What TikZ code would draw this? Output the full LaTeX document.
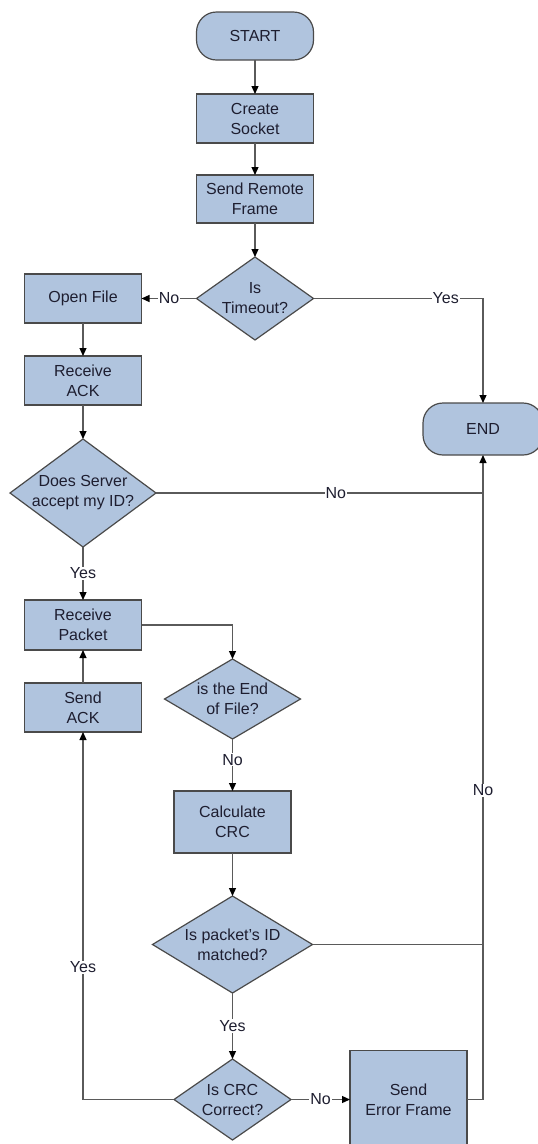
\documentclass[tikz,border=0pt]{standalone}
\usepackage{fontspec}
\setmainfont{Liberation Sans}
\usetikzlibrary{arrows.meta, positioning, shapes.geometric}
\definecolor{boxfill}{HTML}{B0C4DE}
\definecolor{boxline}{HTML}{4A4A4A}
\definecolor{wire}{HTML}{5A5A5A}
\definecolor{txt}{HTML}{1E1E30}

\begin{document}
\begin{tikzpicture}[
        x=1pt, y=1pt,
        font=\fontsize{16}{20}\selectfont,
        >={Triangle[length=8pt, width=7pt, color=black]},
        every node/.style={text=txt},
        box/.style={draw=boxline, line width=1.2pt, fill=boxfill, align=center, minimum width=117pt, minimum height=49pt, inner sep=0pt, outer sep=0pt},
        term/.style={box, rounded corners=20pt, minimum height=48pt},
        decision/.style={diamond, draw=boxline, line width=1.2pt, fill=boxfill, inner sep=0pt, outer sep=0pt},
        arrow/.style={->, wire, line width=1.2pt},
        link/.style={wire, line width=1.2pt},
        lbl/.style={fill=white, inner sep=1pt}
    ]
        \useasboundingbox (0,0) rectangle (538,-1144);

        \node[term] (start) at (255,-36) {START};
        \node[box, below=34pt of start] (socket) {Create\\Socket};
        \node[box, below=32pt of socket, minimum height=48pt] (remote) {Send Remote\\Frame};
        \node[decision, minimum width=117pt, minimum height=83pt, below=34pt of remote,
            label={[align=center]center:Is\\Timeout?}] (timeout) {};

        \node[box, left=55pt of timeout] (openfile) {Open File};
        \node[box, below=33pt of openfile] (recack) {Receive\\ACK};
        \node[decision, minimum width=146pt, minimum height=108pt, below=34pt of recack,
            label={[align=center]center:Does Server\\accept my ID?}] (server) {};
        \node[box, below=53pt of server, minimum height=50pt] (recpkt) {Receive\\Packet};
        \node[box, below=33pt of recpkt] (sendack) {Send\\ACK};

        \node[decision, minimum width=136pt, minimum height=80pt, right=23pt of recpkt, yshift=-74pt,
            label={[align=center]center:is the End\\of File?}] (eof) {};
        \node[box, below=52pt of eof, minimum height=62pt] (calc) {Calculate\\CRC};
        \node[decision, minimum width=160pt, minimum height=97pt, below=43pt of calc,
            label={[align=center]center:Is packet's ID\\matched?}] (pktid) {};
        \node[decision, minimum width=117pt, minimum height=81pt, below=66pt of pktid,
            label={[align=center]center:Is CRC\\Correct?}] (crc) {};
        \node[box, right=59pt of crc, minimum height=98pt] (senderr) {Send\\Error Frame};

        \node[term, minimum width=120pt, minimum height=52pt] (end) at (483,-429) {END};

        % main flow
        \draw[arrow] (start) -- (socket);
        \draw[arrow] (socket) -- (remote);
        \draw[arrow] (remote) -- (timeout);
        \draw[arrow] (timeout) -- node[lbl] {No} (openfile);
        \draw[arrow] (timeout.east) -| node[lbl, pos=0.39] {Yes} (end.north);
        \draw[arrow] (openfile) -- (recack);
        \draw[arrow] (recack) -- (server);
        \draw[link] (server.east) -- node[lbl, pos=0.55] {No} (server.east -| end.south);
        \draw[arrow] (server) -- node[lbl] {Yes} (recpkt);

        % packet loop
        \draw[arrow] (recpkt.east) -| (eof.north);
        \draw[arrow] (sendack) -- (recpkt);
        \draw[arrow] (eof) -- node[lbl, pos=0.4] {No} (calc);
        \draw[arrow] (calc) -- (pktid);
        \draw[link] (pktid.east) -- (pktid.east -| end.south);
        \draw[arrow] (pktid) -- node[lbl] {Yes} (crc);
        \draw[arrow] (crc) -- node[lbl] {No} (senderr);
        \draw[arrow] (senderr.east) -| node[lbl, pos=0.74] {No} (end.south);
        \draw[arrow] (crc.west) -| node[lbl, pos=0.68] {Yes} (sendack.south);
    \end{tikzpicture}
\end{document}
